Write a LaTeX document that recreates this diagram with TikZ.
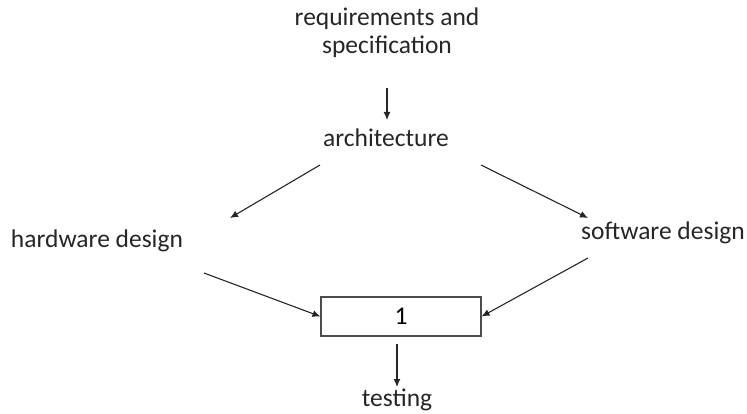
\documentclass[tikz,border=0pt]{standalone}
\usepackage{fontspec}
\setmainfont{Carlito}
\usetikzlibrary{arrows.meta}
\begin{document}
\begin{tikzpicture}[x=1pt,y=-1pt,
  lbl/.style={font=\fontsize{25.5}{28}\selectfont, text=black!85, inner sep=0pt, align=center},
  conn/.style={line width=1.1pt, draw=black!85, -{Latex[length=8pt,width=7pt]}},
  boxstyle/.style={draw=black!70, line width=1.1pt, minimum width=160pt, minimum height=39pt, inner sep=0pt, font=\fontsize{25.5}{28}\selectfont}]
\useasboundingbox (0,0) rectangle (747,414);
\node[lbl] (req) at (387,33) {requirements and\\specification};
\node[lbl] (arch) at (386,138) {architecture};
\node[lbl] (hw) at (97,241) {hardware design};
\node[lbl] (sw) at (663,233) {software design};
\node[boxstyle] (box) at (401,316.5) {1};
\node[lbl] (test) at (397,400) {testing};
\coordinate (r1) at (387,88);
\coordinate (r2) at (387,120);
\coordinate (a1) at (320,165);
\coordinate (a2) at (230,218);
\coordinate (a3) at (481,165);
\coordinate (a4) at (588,218);
\coordinate (h1) at (204,273);
\coordinate (s1) at (588,258);
\coordinate (t1) at (397,344);
\coordinate (t2) at (397,387);
\draw[conn] (r1) -- (r2);
\draw[conn] (a1) -- (a2);
\draw[conn] (a3) -- (a4);
\draw[conn] (h1) -- (box.west);
\draw[conn] (s1) -- (box.east);
\draw[conn] (t1) -- (t2);
\end{tikzpicture}
\end{document}
